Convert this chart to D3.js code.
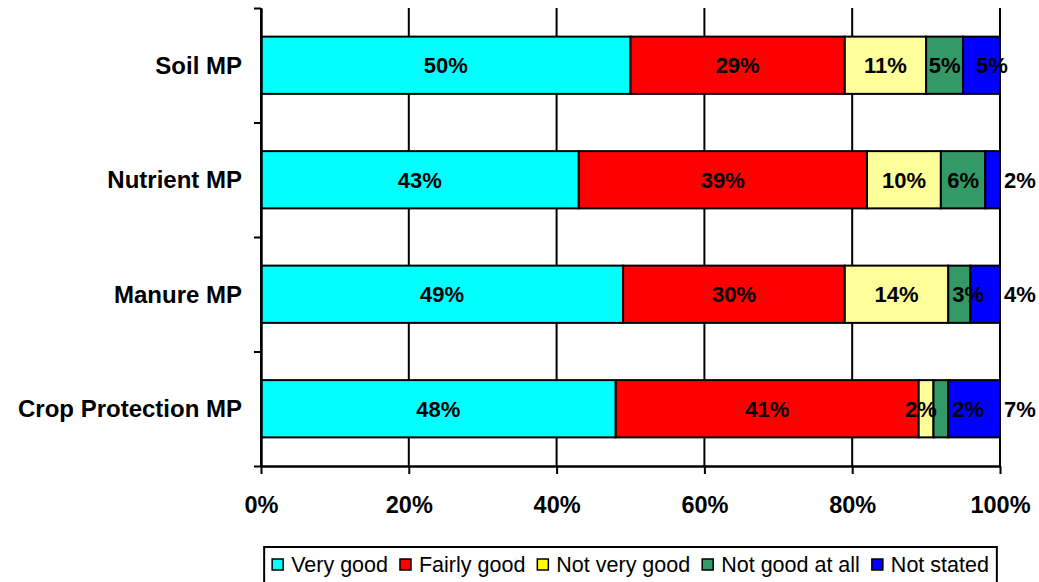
<!DOCTYPE html>
<html>
<head>
<meta charset="utf-8">
<script src="https://cdn.jsdelivr.net/npm/d3@7"></script>
<style>
  body { margin: 0; background: #fff; }
  svg { display: block; font-family: "Liberation Sans", Arial, sans-serif; }
</style>
</head>
<body>
<svg id="chart" width="1039" height="582"></svg>
<script>
// ---- data ----
var categories = ["Soil MP", "Nutrient MP", "Manure MP", "Crop Protection MP"];
var seriesNames = ["Very good", "Fairly good", "Not very good", "Not good at all", "Not stated"];
var veryGood     = [50, 43, 49, 48];
var fairlyGood   = [29, 39, 30, 41];
var notVeryGood  = [11, 10, 14, 2];
var notGoodAtAll = [5, 6, 3, 2];
var notStated    = [5, 2, 4, 7];
var tickValues = [0, 20, 40, 60, 80, 100];

// styling
var colors = ["#00ffff", "#ff0000", "#ffff99", "#339966", "#0000ff"];
var legendColors = ["#00ffff", "#ff0000", "#ffff00", "#339966", "#0000ff"];
// label nudges (in % units) to mimic the hand-placed labels of the original
var labelNudge = [
  [0, 0, 0, 0, 1.4],
  [0, 0, 0, 0, 3.7],
  [0, 0, 0, 1.2, 4.7],
  [0, 0, -0.7, 3.7, 6.2]
];

var seriesValues = [veryGood, fairlyGood, notVeryGood, notGoodAtAll, notStated];

var svg = d3.select("#chart");
var m = { left: 261, right: 1000, top: 8, bottom: 466 };

var x = d3.scaleLinear().domain([0, 100]).range([m.left, m.right]);
var y = d3.scaleBand().domain(categories).range([m.top, m.bottom]).padding(0);
var barH = y.bandwidth() * 0.5;

// build stacked rows
var rows = categories.map(function (c, i) {
  var acc = 0;
  return seriesValues.map(function (vals, s) {
    var d = { cat: c, row: i, s: s, v: vals[i], x0: acc, x1: acc + vals[i] };
    acc += vals[i];
    return d;
  });
});
var segs = d3.merge(rows);

// vertical gridlines
svg.append("g").selectAll("line")
  .data(tickValues)
  .enter().append("line")
  .attr("x1", function (d) { return x(d); })
  .attr("x2", function (d) { return x(d); })
  .attr("y1", m.top).attr("y2", m.bottom)
  .attr("stroke", "#000").attr("stroke-width", 2);

// bars
svg.append("g").selectAll("rect")
  .data(segs)
  .enter().append("rect")
  .attr("x", function (d) { return x(d.x0); })
  .attr("width", function (d) { return x(d.x1) - x(d.x0); })
  .attr("y", function (d) { return y(d.cat) + (y.bandwidth() - barH) / 2; })
  .attr("height", barH)
  .attr("fill", function (d) { return colors[d.s]; })
  .attr("stroke", "#000").attr("stroke-width", 2);

// value labels
svg.append("g").selectAll("text")
  .data(segs)
  .enter().append("text")
  .attr("x", function (d) { return x((d.x0 + d.x1) / 2 + labelNudge[d.row][d.s]); })
  .attr("y", function (d) { return y(d.cat) + y.bandwidth() / 2; })
  .attr("dy", "0.37em")
  .attr("text-anchor", "middle")
  .style("font-size", "22px").style("font-weight", "bold")
  .text(function (d) { return d.v + "%"; });

// y axis with ticks at category boundaries
var yb = d3.scaleLinear().domain([0, categories.length]).range([m.top, m.bottom]);
var yAxis = svg.append("g")
  .attr("transform", "translate(" + m.left + ",0)")
  .call(d3.axisLeft(yb).ticks(categories.length).tickFormat("").tickSize(7).tickSizeOuter(0));
yAxis.select(".domain").attr("stroke-width", 2.5);
yAxis.selectAll(".tick line").attr("stroke-width", 2);

// category labels
svg.append("g").selectAll("text")
  .data(categories)
  .enter().append("text")
  .attr("x", 242)
  .attr("y", function (d) { return y(d) + y.bandwidth() / 2; })
  .attr("dy", "0.36em")
  .attr("text-anchor", "end")
  .style("font-size", "24px").style("font-weight", "bold")
  .text(function (d) { return d; });

// x axis
var xAxis = svg.append("g")
  .attr("transform", "translate(0," + m.bottom + ")")
  .call(d3.axisBottom(x).tickValues(tickValues).tickFormat(function (d) { return d + "%"; }).tickSize(8).tickSizeOuter(0));
xAxis.select(".domain").attr("stroke-width", 2.5);
xAxis.selectAll(".tick line").attr("stroke-width", 2);
xAxis.selectAll(".tick text")
  .attr("y", 47).attr("dy", 0)
  .attr("fill", "#000")
  .style("font-size", "23.5px").style("font-weight", "bold")
  .style("font-family", "'Liberation Sans', Arial, sans-serif");

// legend
var legend = svg.append("g");
var items = [];
seriesNames.forEach(function (name, i) {
  var g = legend.append("g");
  g.append("rect").attr("x", 0).attr("y", 559).attr("width", 11).attr("height", 11)
    .attr("fill", legendColors[i]).attr("stroke", "#000").attr("stroke-width", 1.5);
  var t = g.append("text").attr("x", 19).attr("y", 572)
    .style("font-size", "21.5px").text(name);
  var w = 19 + t.node().getComputedTextLength();
  items.push({ g: g, w: w });
});
var gap = 12;
var total = d3.sum(items, function (d) { return d.w; }) + gap * (items.length - 1);
var cx = (m.left + m.right) / 2;
var startX = cx - total / 2;
items.forEach(function (it) {
  it.g.attr("transform", "translate(" + startX + ",0)");
  startX += it.w + gap;
});
var pad = 8;
legend.insert("rect", ":first-child")
  .attr("x", cx - total / 2 - pad)
  .attr("y", 547)
  .attr("width", total + 2 * pad)
  .attr("height", 50)
  .attr("fill", "#fff").attr("stroke", "#000").attr("stroke-width", 2);
</script>
</body>
</html>
